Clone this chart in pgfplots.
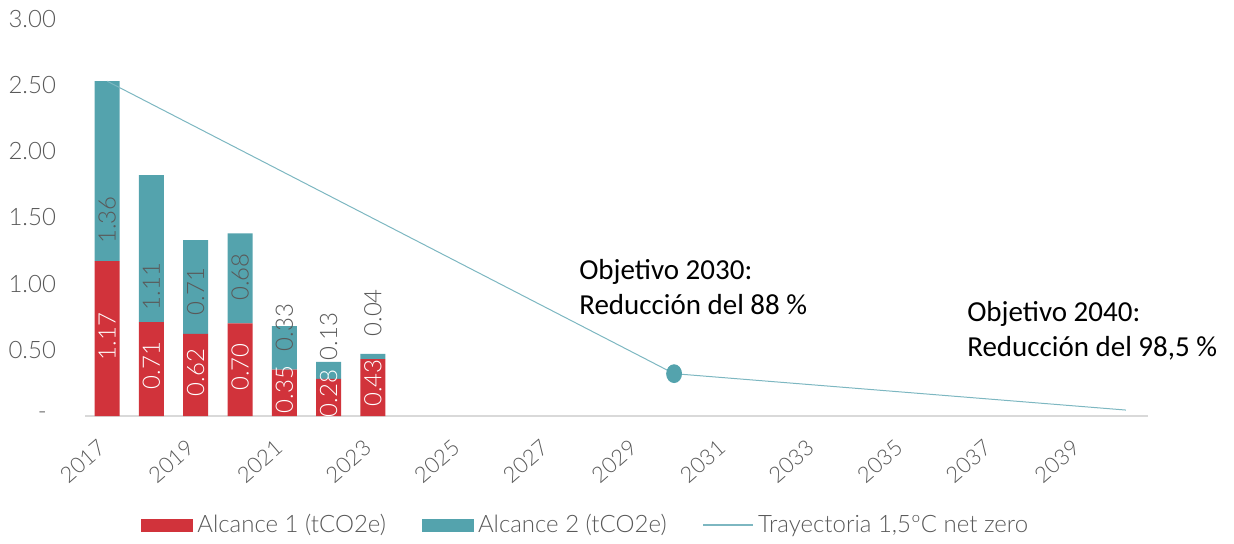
\documentclass[border=0pt]{standalone}
\usepackage{pgfplots}
\pgfplotsset{compat=1.18}
\usepackage{fontspec}
\setmainfont{Lato}[UprightFont={* Light}]
\newfontfamily\calibri{Carlito}
\definecolor{redA}{RGB}{209,51,59}
\definecolor{tealA}{RGB}{84,163,173}
\definecolor{lineA}{RGB}{125,183,193}
\definecolor{txt}{RGB}{89,89,89}
\definecolor{axisgray}{RGB}{217,217,217}
\tikzset{lbl/.style={rotate=90, font=\fontsize{12}{14}\selectfont, inner sep=0pt}}
\pgfplotsset{boxlegend/.style={legend image code/.code={\fill[##1] (0pt,-3.25pt) rectangle (26pt,3.25pt);}}}

\begin{document}
\begin{tikzpicture}
\useasboundingbox (0,0) rectangle (617pt,271.5pt);
% bars and x axis
\begin{axis}[
  at={(42.5pt,63.5pt)}, anchor=south west,
  scale only axis, width=531.5pt, height=198.5pt,
  xmin=2016.5, xmax=2040.5, ymin=0, ymax=3,
  ybar stacked, bar width=12.5pt,
  axis y line=none, axis x line*=bottom,
  x axis line style={draw=axisgray, line width=1pt},
  major tick length=0pt,
  ytick=\empty,
  xtick={2017,2019,...,2039},
  xticklabels={2017,2019,2021,2023,2025,2027,2029,2031,2033,2035,2037,2039},
  xticklabel style={rotate=41, anchor=east, font=\fontsize{11}{13}\selectfont, text=txt},
  xticklabel shift=12pt,
  clip=false,
]
\addplot[fill=redA, draw=none] coordinates {
  (2017,1.17) (2018,0.71) (2019,0.62) (2020,0.70) (2021,0.35) (2022,0.28) (2023,0.43)};
\addplot[fill=tealA, draw=none] coordinates {
  (2017,1.36) (2018,1.11) (2019,0.71) (2020,0.68) (2021,0.33) (2022,0.13) (2023,0.04)};
\end{axis}
% trajectory, y axis, value labels and legend
\begin{axis}[
  at={(42.5pt,63.5pt)}, anchor=south west,
  scale only axis, width=531.5pt, height=198.5pt,
  xmin=2016.5, xmax=2040.5, ymin=0, ymax=3,
  axis x line=none, axis y line*=left,
  y axis line style={draw=none},
  major tick length=0pt,
  xtick=\empty,
  ytick={0,0.5,...,3},
  yticklabels={\makebox[9pt][l]{-},0.50,1.00,1.50,2.00,2.50,3.00},
  yticklabel style={font=\fontsize{12}{14}\selectfont, text=txt, xshift=-11pt},
  clip=false,
  legend style={at={(0.472,-0.275)}, anchor=center, draw=none, fill=none,
    legend columns=3, font=\fontsize{12}{14}\selectfont, text=txt,
    /tikz/every even column/.append style={column sep=16pt}},
]
\addlegendimage{boxlegend, fill=redA, draw=none}
\addlegendentry{Alcance 1 (tCO2e)}
\addlegendimage{boxlegend, fill=tealA, draw=none}
\addlegendentry{Alcance 2 (tCO2e)}
\addplot[lineA, line width=0.5pt, mark=*, mark indices={2},
  mark options={fill=tealA, draw=tealA, mark size=3.7pt, yscale=1.2},
  legend image code/.code={\draw[lineA, line width=0.8pt] (0pt,0pt) -- (25pt,0pt);}]
  coordinates {(2017,2.53) (2029.8,0.32) (2040,0.045)};
\addlegendentry{Trayectoria 1,5ºC net zero}
\node[lbl, text=white] at (axis cs:2017,0.60) {1.17};
\node[lbl, text=white] at (axis cs:2018,0.38) {0.71};
\node[lbl, text=white] at (axis cs:2019,0.33) {0.62};
\node[lbl, text=white] at (axis cs:2020,0.37) {0.70};
\node[lbl, text=white] at (axis cs:2021,0.20) {0.35};
\node[lbl, text=white] at (axis cs:2022,0.17) {0.28};
\node[lbl, text=white] at (axis cs:2023,0.25) {0.43};
\node[lbl, text=txt] at (axis cs:2017,1.48) {1.36};
\node[lbl, text=txt] at (axis cs:2018,0.98) {1.11};
\node[lbl, text=txt] at (axis cs:2019,0.94) {0.71};
\node[lbl, text=txt] at (axis cs:2020,1.05) {0.68};
\node[lbl, text=txt] at (axis cs:2021,0.67) {0.33};
\node[lbl, text=txt] at (axis cs:2022,0.60) {0.13};
\node[lbl, text=txt] at (axis cs:2023,0.78) {0.04};
\node[anchor=north west, align=left, font=\calibri\fontsize{14.5}{17.5}\selectfont, inner sep=0pt]
  at (axis cs:2027.65,1.19) {Objetivo 2030:\\Reducción del 88 \%};
\node[anchor=north west, align=left, font=\calibri\fontsize{14.5}{17.5}\selectfont, inner sep=0pt]
  at (axis cs:2036.41,0.87) {Objetivo 2040:\\Reducción del 98,5 \%};
\end{axis}
\end{tikzpicture}
\end{document}
